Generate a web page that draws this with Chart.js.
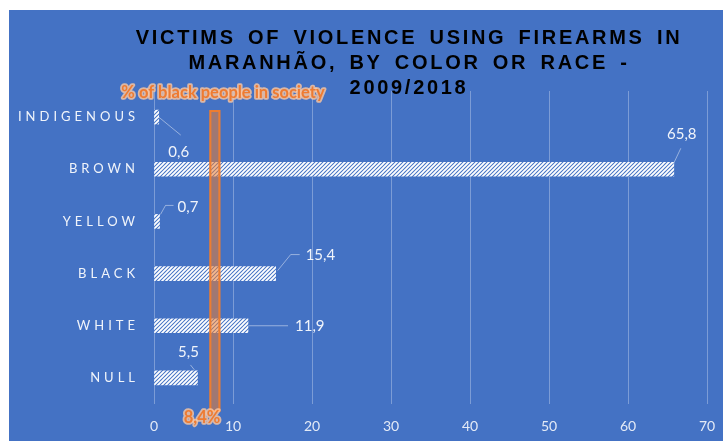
<!DOCTYPE html>
<html>
<head>
<meta charset="utf-8">
<script src="https://cdn.jsdelivr.net/npm/chart.js@4/dist/chart.umd.min.js"></script>
<style>
  body { margin: 0; background: #ffffff; }
  #box { position: absolute; left: 9px; top: 10px; width: 714px; height: 431px; background: #4472c4; }
</style>
</head>
<body>
<div id="box"><canvas id="victims"></canvas></div>
<script>
/* --------------- Data --------------------- */
const races = ["INDIGENOUS", "BROWN", "YELLOW", "BLACK", "WHITE", "NULL"];
const victimsPct = [0.6, 65.8, 0.7, 15.4, 11.9, 5.5];
const blackShare = 8.4;
const titleLines = ["VICTIMS OF VIOLENCE USING FIREARMS IN", "MARANHÃO, BY COLOR OR RACE -", "2009/2018"];

/* --------------- Leader lines: points and label spot, relative to bar end --------------------- */
const leaders = [
  { pts: [[0, 0], [22, 18]], lx: 20, ly: 35, align: "center" },
  { pts: [[-2, -2], [7, -21]], lx: 8, ly: -35, align: "center" },
  { pts: [[1, -7], [6, -16], [14, -16]], lx: 18, ly: -14, align: "left" },
  { pts: [[2, -3], [15, -19], [24, -19]], lx: 30, ly: -18, align: "left" },
  { pts: [[1, 0], [40, 0]], lx: 47, ly: 0, align: "left" },
  { pts: [[-3, -8], [-7, -13]], lx: -9, ly: -26, align: "center" },
];

const fmt = (v) => String(v).replace(".", ",");

/* --------------- Hatch fill for the bars --------------------- */
function hatch() {
  const c = document.createElement("canvas");
  c.width = 4;
  c.height = 4;
  const g = c.getContext("2d");
  g.fillStyle = "#4472c4";
  g.fillRect(0, 0, 4, 4);
  g.strokeStyle = "#ffffff";
  g.lineWidth = 1.9;
  g.beginPath();
  g.moveTo(-1, 5); g.lineTo(5, -1);
  g.moveTo(-1, 1); g.lineTo(1, -1);
  g.moveTo(3, 5); g.lineTo(5, 3);
  g.stroke();
  return g.createPattern(c, "repeat");
}

function glowText(ctx, txt, x, y) {
  ctx.save();
  ctx.font = "bold 16.5px Lato";
  ctx.textAlign = "center";
  ctx.textBaseline = "middle";
  ctx.lineJoin = "round";
  ctx.strokeStyle = "rgba(255,200,160,0.8)";
  ctx.lineWidth = 3.5;
  ctx.strokeText(txt, x, y);
  ctx.fillStyle = "#ef7b30";
  ctx.fillText(txt, x, y);
  ctx.restore();
}

/* --------------- Extra drawing: title, spaced labels, band, value labels --------------------- */
const decor = {
  id: "decor",
  afterDatasetsDraw(chart) {
    const { ctx, chartArea, scales } = chart;
    const x = scales.x, y = scales.y;

    // title
    ctx.save();
    ctx.fillStyle = "#000000";
    ctx.font = "bold 20px 'Liberation Sans', Arial, sans-serif";
    ctx.letterSpacing = "2.7px";
    ctx.wordSpacing = "4px";
    ctx.textAlign = "center";
    ctx.textBaseline = "middle";
    titleLines.forEach((t, i) => ctx.fillText(t, 400, 28 + i * 25));
    ctx.restore();

    // category labels
    ctx.save();
    ctx.fillStyle = "rgba(255,255,255,0.92)";
    ctx.font = "13px Lato";
    ctx.letterSpacing = "4px";
    ctx.textAlign = "right";
    ctx.textBaseline = "middle";
    races.forEach((r, i) => ctx.fillText(r, chartArea.left - 15, y.getPixelForValue(i)));
    ctx.restore();

    // value labels with leader lines
    const meta = chart.getDatasetMeta(0);
    ctx.save();
    ctx.strokeStyle = "rgba(255,255,255,0.45)";
    ctx.lineWidth = 1;
    ctx.fillStyle = "rgba(255,255,255,0.92)";
    ctx.font = "15px Lato";
    ctx.textBaseline = "middle";
    meta.data.forEach((bar, i) => {
      const l = leaders[i];
      ctx.beginPath();
      l.pts.forEach(([dx, dy], k) => {
        if (k === 0) ctx.moveTo(bar.x + dx, bar.y + dy);
        else ctx.lineTo(bar.x + dx, bar.y + dy);
      });
      ctx.stroke();
      ctx.textAlign = l.align;
      ctx.fillText(fmt(victimsPct[i]), bar.x + l.lx, bar.y + l.ly);
    });
    ctx.restore();

    // black population band
    const right = x.getPixelForValue(blackShare);
    const top = chartArea.top + 19;
    const h = chartArea.bottom + 8 - top;
    ctx.save();
    ctx.fillStyle = "rgba(237,125,49,0.55)";
    ctx.fillRect(right - 11, top, 11, h);
    ctx.strokeStyle = "#ed7d31";
    ctx.lineWidth = 2;
    ctx.strokeRect(right - 10, top + 1, 9, h - 2);
    ctx.restore();

    glowText(ctx, "% of black people in society", 214, 83);
    glowText(ctx, fmt(blackShare) + "%", 193, 408);
  },
};

/* --------------- Chart --------------------- */
new Chart(document.getElementById("victims"), {
  type: "bar",
  plugins: [decor],
  data: {
    labels: races,
    datasets: [
      {
        data: victimsPct,
        backgroundColor: hatch(),
        borderWidth: 0,
        barThickness: 14,
      },
    ],
  },
  options: {
    indexAxis: "y",
    responsive: true,
    maintainAspectRatio: false,
    animation: false,
    layout: { padding: { top: 81, left: 137, right: 16, bottom: 0 } },
    plugins: {
      legend: { display: false },
      tooltip: { enabled: false },
      title: { display: false },
    },
    scales: {
      x: {
        min: 0,
        max: 70,
        afterFit: (scale) => {
          scale.height = 37;
          scale.paddingLeft = 0;
          scale.paddingRight = 0;
        },
        ticks: {
          stepSize: 10,
          color: "rgba(255,255,255,0.85)",
          font: { family: "Lato", size: 14 },
          padding: 14,
        },
        grid: { color: "rgba(255,255,255,0.3)", drawTicks: false },
        border: { display: false },
      },
      y: {
        ticks: { display: false },
        grid: { display: false },
        border: { display: false },
      },
    },
  },
});
</script>
</body>
</html>
